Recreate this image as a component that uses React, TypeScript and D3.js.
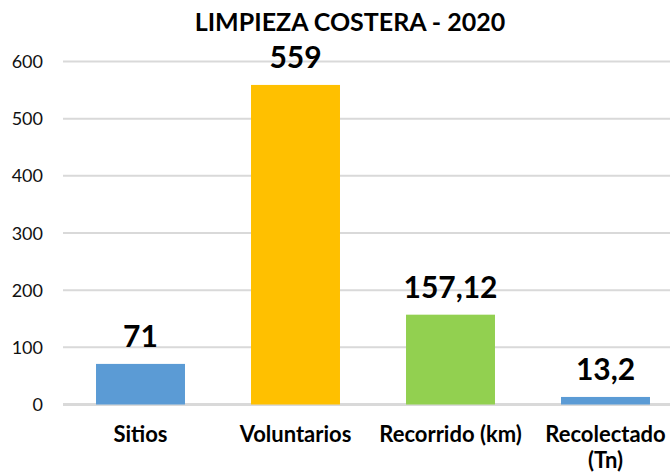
import React from "react";
import * as d3 from "d3";

const categories = ["Sitios", "Voluntarios", "Recorrido (km)", "Recolectado (Tn)"];
const values = [71, 559, 157.12, 13.2];
const valueLabels = ["71", "559", "157,12", "13,2"];
const barColors = ["#5B9BD5", "#FFC000", "#92D050", "#5B9BD5"];
const yTicks = [0, 100, 200, 300, 400, 500, 600];

const W = 670;
const H = 474;
const FONT = "Lato, 'Open Sans', sans-serif";

export default function App() {
  const x = d3.scaleBand<string>().domain(categories).range([63, 683]).paddingInner(0.426).paddingOuter(0.213);
  const y = d3.scaleLinear().domain([0, 600]).range([404.5, 61.5]);
  const gridX0 = 63;
  const gridX1 = 670;

  return (
    <div style={{ position: "absolute", left: 0, top: 0, width: W, height: H, background: "#fff" }}>
      <svg width={W} height={H} style={{ display: "block" }} fontFamily={FONT}>
        <rect x={0} y={0} width={W} height={H} fill="#fff" />
        <text x={350} y={31} textAnchor="middle" fontSize={25} fontWeight="bold" fill="#000">
          LIMPIEZA COSTERA - 2020
        </text>
        {yTicks.map((t) => (
          <g key={t}>
            <line
              x1={gridX0}
              x2={gridX1}
              y1={y(t)}
              y2={y(t)}
              stroke="#D9D9D9"
              strokeWidth={t === 0 ? 3 : 2}
            />
            <text x={43} y={y(t) + 6.5} textAnchor="end" fontSize={18} fill="#111">
              {t}
            </text>
          </g>
        ))}
        {categories.map((c, i) => (
          <g key={c}>
            <rect x={x(c)} y={y(values[i])} width={x.bandwidth()} height={y(0) - y(values[i])} fill={barColors[i]} />
            <text
              x={(x(c) ?? 0) + x.bandwidth() / 2}
              y={y(values[i]) - 17}
              textAnchor="middle"
              fontSize={30}
              fontWeight="bold"
              fill="#000"
            >
              {valueLabels[i]}
            </text>
          </g>
        ))}
        {categories.map((c) => {
          const cx = (x(c) ?? 0) + x.bandwidth() / 2;
          const parts = c === "Recolectado (Tn)" ? ["Recolectado", "(Tn)"] : [c];
          return (
            <text key={"l" + c} x={cx} y={442} textAnchor="middle" fontSize={22} fontWeight="bold" fill="#000">
              {parts.map((p, k) => (
                <tspan key={k} x={cx} dy={k === 0 ? 0 : 26}>
                  {p}
                </tspan>
              ))}
            </text>
          );
        })}
      </svg>
    </div>
  );
}
